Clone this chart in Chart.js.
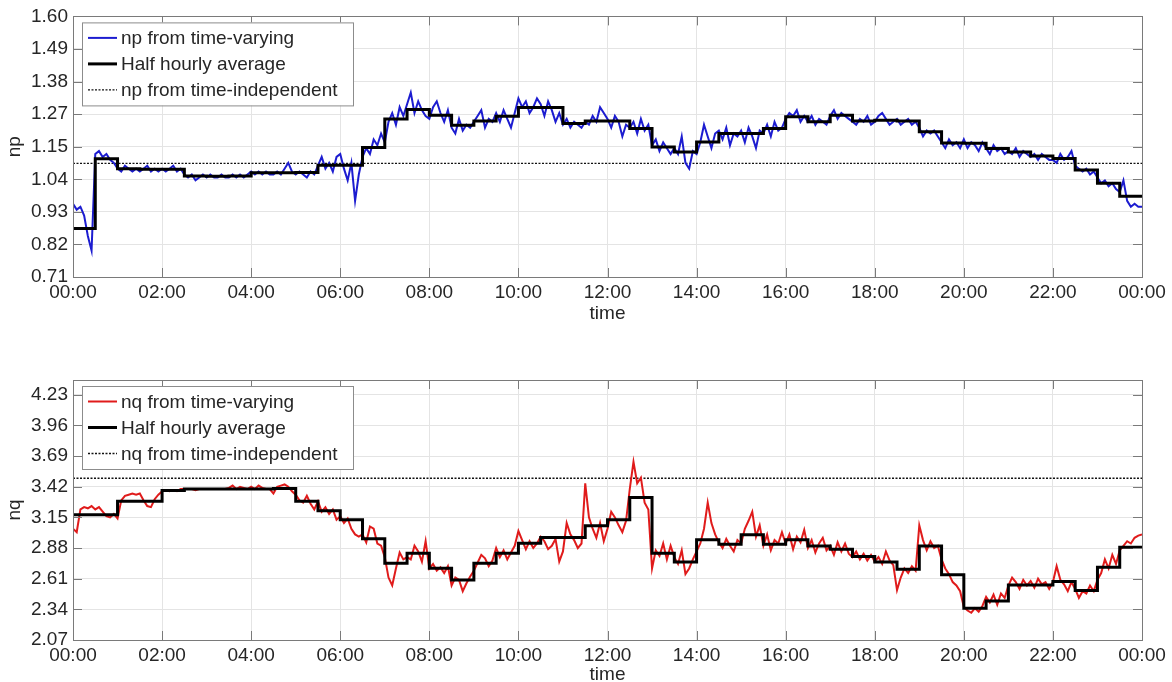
<!DOCTYPE html>
<html><head><meta charset="utf-8">
<script src="https://cdn.jsdelivr.net/npm/chart.js@4.4.0/dist/chart.umd.min.js"></script>
<style>
html,body{margin:0;padding:0;background:#fff;overflow:hidden;width:1172px;height:682px;}
#w1{position:absolute;left:0;top:0;width:1172px;height:340px;}
#w2{position:absolute;left:0;top:340px;width:1172px;height:350px;}
</style></head><body>
<div id="w1"><canvas id="c1"></canvas></div>
<div id="w2"><canvas id="c2"></canvas></div>
<script>
// ---------- data ----------
const SAMPLE_MINUTES = 5;
const AVG_MINUTES = 30;
const DAY_MINUTES = 1440;

const timeTickValues = [0,120,240,360,480,600,720,840,960,1080,1200,1320,1440];
const timeTickLabels = ['00:00','02:00','04:00','06:00','08:00','10:00','12:00','14:00','16:00','18:00','20:00','22:00','00:00'];

const npTickValues = [0.71,0.82125,0.9325,1.04375,1.155,1.26625,1.3775,1.48875,1.60];
const npTickLabels = ['0.71','0.82','0.93','1.04','1.15','1.27','1.38','1.49','1.60'];
const nqTickValues = [2.07,2.34,2.61,2.88,3.15,3.42,3.69,3.96,4.23];
const nqTickLabels = ['2.07','2.34','2.61','2.88','3.15','3.42','3.69','3.96','4.23'];

const npIndependent = 1.098;
const nqIndependent = 3.495;

// np from time-varying (5-minute samples, 00:00 .. 24:00)
const npVarying = [
0.96,0.94,0.95,0.92,0.85,0.80, 1.13,1.14,1.12,1.13,1.11,1.10,
1.08,1.07,1.09,1.08,1.07,1.08, 1.07,1.08,1.09,1.07,1.08,1.07,
1.08,1.07,1.08,1.09,1.07,1.08, 1.06,1.05,1.06,1.04,1.05,1.06,
1.05,1.06,1.05,1.05,1.06,1.05, 1.05,1.06,1.05,1.06,1.05,1.06,
1.07,1.06,1.07,1.06,1.07,1.06, 1.06,1.07,1.06,1.08,1.10,1.07,
1.06,1.07,1.06,1.05,1.07,1.06, 1.09,1.12,1.08,1.10,1.07,1.12,
1.13,1.08,1.04,1.10,0.97,1.06, 1.12,1.15,1.13,1.18,1.16,1.20,
1.17,1.24,1.27,1.23,1.29,1.26, 1.30,1.34,1.27,1.31,1.28,1.26,
1.25,1.29,1.31,1.27,1.24,1.28, 1.22,1.20,1.25,1.21,1.23,1.22,
1.24,1.26,1.28,1.22,1.25,1.24, 1.27,1.24,1.28,1.25,1.22,1.27,
1.32,1.29,1.31,1.27,1.29,1.32, 1.30,1.26,1.31,1.28,1.24,1.27,
1.23,1.25,1.22,1.24,1.23,1.22, 1.24,1.23,1.26,1.24,1.29,1.27,
1.25,1.22,1.26,1.24,1.19,1.23, 1.22,1.24,1.20,1.25,1.21,1.23,
1.16,1.18,1.14,1.17,1.15,1.13, 1.15,1.13,1.19,1.10,1.08,1.14,
1.13,1.17,1.23,1.19,1.15,1.20, 1.21,1.18,1.22,1.16,1.20,1.19,
1.21,1.17,1.22,1.19,1.15,1.21, 1.20,1.23,1.19,1.24,1.21,1.22,
1.25,1.27,1.26,1.28,1.24,1.26, 1.24,1.26,1.23,1.25,1.24,1.23,
1.26,1.28,1.25,1.27,1.26,1.25, 1.24,1.23,1.25,1.24,1.26,1.23,
1.24,1.26,1.27,1.25,1.23,1.24, 1.25,1.23,1.24,1.25,1.23,1.24,
1.22,1.19,1.21,1.20,1.21,1.19, 1.17,1.15,1.18,1.16,1.17,1.15,
1.18,1.15,1.17,1.16,1.14,1.17, 1.15,1.13,1.16,1.14,1.15,1.13,
1.14,1.13,1.15,1.12,1.14,1.13, 1.12,1.13,1.11,1.13,1.12,1.11,
1.11,1.10,1.13,1.11,1.12,1.14, 1.09,1.08,1.07,1.08,1.06,1.07,
1.05,1.03,1.04,1.02,1.03,1.01, 1.00,1.04,0.97,0.95,0.96,0.95,
0.95
];

// np half hourly average (48 half hours)
const npHalfHourly = [
0.876,1.114,1.080,1.078,1.078,1.055,1.054,1.055,1.066,1.066,1.067,1.092,
1.092,1.152,1.250,1.282,1.262,1.228,1.243,1.259,1.289,1.289,1.234,1.243,
1.243,1.217,1.154,1.137,1.171,1.200,1.200,1.217,1.257,1.240,1.262,1.243,
1.245,1.243,1.206,1.168,1.167,1.149,1.137,1.123,1.115,1.075,1.030,0.986
];

// nq from time-varying (5-minute samples, 00:00 .. 24:00)
const nqVarying = [
3.05,3.02,3.22,3.24,3.23,3.25, 3.22,3.24,3.20,3.16,3.15,3.18,
3.14,3.30,3.34,3.35,3.36,3.35, 3.36,3.30,3.25,3.24,3.31,3.35,
3.38,3.39,3.38,3.39,3.38,3.40, 3.40,3.40,3.40,3.39,3.40,3.40,
3.40,3.40,3.40,3.40,3.40,3.40, 3.41,3.43,3.40,3.42,3.41,3.40,
3.42,3.40,3.43,3.41,3.40,3.40, 3.36,3.42,3.43,3.44,3.42,3.38,
3.35,3.30,3.28,3.34,3.27,3.22, 3.29,3.20,3.24,3.18,3.22,3.13,
3.16,3.10,3.14,3.05,3.00,2.98, 3.00,2.93,3.07,3.05,2.92,2.90,
2.80,2.62,2.55,2.70,2.84,2.78, 2.80,2.78,2.90,2.85,2.76,2.94,
2.70,2.74,2.68,2.71,2.66,2.72, 2.55,2.62,2.60,2.50,2.57,2.63,
2.68,2.75,2.82,2.79,2.72,2.77, 2.88,2.80,2.86,2.78,2.84,2.90,
3.03,2.95,2.87,2.94,2.88,2.92, 2.98,2.94,2.87,2.90,2.96,2.76,
2.85,3.10,3.00,2.95,2.88,2.92, 3.45,3.15,3.05,2.97,3.10,2.94,
3.05,3.20,3.15,3.08,3.02,3.12, 3.40,3.64,3.45,3.50,3.28,3.22,
2.70,2.86,2.81,2.92,2.78,2.90, 2.80,2.74,2.86,2.65,2.70,2.78,
2.85,2.92,3.05,3.28,3.10,3.00, 2.93,2.88,2.96,2.90,2.85,2.95,
2.92,3.05,3.12,3.20,2.98,3.08, 2.90,3.00,2.86,2.95,2.92,3.02,
2.92,3.00,2.87,2.98,2.93,3.04, 2.88,2.95,2.84,2.92,2.97,2.86,
2.90,2.82,2.93,2.85,2.92,2.83, 2.80,2.85,2.78,2.83,2.77,2.82,
2.76,2.80,2.74,2.85,2.77,2.73, 2.51,2.62,2.70,2.66,2.72,2.68,
3.08,2.95,2.86,2.94,2.88,2.90, 2.78,2.70,2.65,2.58,2.55,2.50,
2.36,2.33,2.31,2.35,2.32,2.37, 2.45,2.40,2.47,2.38,2.48,2.44,
2.55,2.62,2.58,2.52,2.60,2.55, 2.59,2.53,2.61,2.56,2.58,2.52,
2.58,2.72,2.60,2.56,2.50,2.58, 2.52,2.44,2.50,2.48,2.55,2.50,
2.60,2.66,2.78,2.70,2.82,2.74, 2.86,2.90,2.94,2.92,2.97,2.99,
3.00
];

// nq half hourly average (48 half hours)
const nqHalfHourly = [
3.173,3.173,3.291,3.291,3.387,3.400,3.400,3.400,3.400,3.405,3.291,3.208,
3.129,2.961,2.747,2.835,2.702,2.599,2.747,2.835,2.923,2.973,2.973,3.076,
3.129,3.326,2.835,2.756,2.952,2.914,2.997,2.914,2.952,2.899,2.870,2.805,
2.756,2.694,2.899,2.644,2.349,2.414,2.555,2.555,2.585,2.505,2.711,2.888
];

// ---------- helpers ----------
const FONT = "'Liberation Sans', Arial, sans-serif";
const TEXT = '#262626';
Chart.defaults.font.family = FONT;
Chart.defaults.font.size = 19;
Chart.defaults.color = TEXT;

function samplePoints(vals){ return vals.map((v,i)=>({x:i*SAMPLE_MINUTES, y:v})); }
function stepPoints(vals){
  const pts = vals.map((v,i)=>({x:i*AVG_MINUTES, y:v}));
  pts.push({x:DAY_MINUTES, y:vals[vals.length-1]});
  return pts;
}
function flatPoints(v){ return [{x:0,y:v},{x:DAY_MINUTES,y:v}]; }

const framePlugin = {
  id:'frame',
  afterDatasetsDraw(chart){
    const {ctx, chartArea:a, scales} = chart;
    ctx.save();
    ctx.strokeStyle = '#7a7a7a';
    ctx.lineWidth = 1;
    const L = 9;
    ctx.beginPath();
    scales.x.ticks.forEach(t=>{
      const px = Math.round(scales.x.getPixelForValue(t.value))+0.5;
      ctx.moveTo(px, a.bottom); ctx.lineTo(px, a.bottom-L);
      ctx.moveTo(px, a.top); ctx.lineTo(px, a.top+L);
    });
    scales.y.ticks.forEach(t=>{
      const py = Math.round(scales.y.getPixelForValue(t.value))+0.5;
      ctx.moveTo(a.left, py); ctx.lineTo(a.left+L, py);
      ctx.moveTo(a.right, py); ctx.lineTo(a.right-L, py);
    });
    ctx.stroke();
    ctx.strokeRect(Math.round(a.left)+0.5, Math.round(a.top)+0.5, Math.round(a.right-a.left), Math.round(a.bottom-a.top));
    ctx.restore();
  },
  afterDraw(chart){
    const {ctx, chartArea:a} = chart;
    const ds = chart.data.datasets;
    const bx = a.left+9, by = a.top+6, bw = 271, bh = 83, row = 26;
    ctx.save();
    ctx.fillStyle = '#fff';
    ctx.fillRect(bx, by, bw, bh);
    ctx.strokeStyle = '#8c8c8c';
    ctx.lineWidth = 1;
    ctx.strokeRect(bx+0.5, by+0.5, bw, bh);
    ctx.font = '19px ' + FONT;
    ctx.textBaseline = 'middle';
    ctx.fillStyle = TEXT;
    ds.forEach((d,i)=>{
      const y = by + 15.5 + i*row;
      ctx.save();
      ctx.strokeStyle = d.borderColor;
      ctx.lineWidth = d.borderWidth;
      ctx.setLineDash(d.borderDash || []);
      ctx.beginPath(); ctx.moveTo(bx+6, y); ctx.lineTo(bx+35, y); ctx.stroke();
      ctx.restore();
      ctx.fillText(d.label, bx+39, y+1);
    });
    ctx.restore();
  }
};

function makeChart(id, cfg){
  return new Chart(document.getElementById(id), {
    type:'line',
    data:{datasets:[
      {label:cfg.varLabel, data:samplePoints(cfg.varying), borderColor:cfg.color, borderWidth:2, pointRadius:0, tension:0, order:1},
      {label:'Half hourly average', data:stepPoints(cfg.avg), borderColor:'#000', borderWidth:3, pointRadius:0, stepped:true, order:0},
      {label:cfg.indLabel, data:flatPoints(cfg.ind), borderColor:'#111', borderWidth:1.4, borderDash:[2,1.5], pointRadius:0, order:2}
    ]},
    options:{
      responsive:true, maintainAspectRatio:false, animation:false,
      events:[],
      layout:{padding:{left:0, right:30, top:cfg.padTop, bottom:0}},
      plugins:{legend:{display:false}, tooltip:{enabled:false}},
      scales:{
        x:{type:'linear', min:0, max:DAY_MINUTES,
          afterBuildTicks:s=>{ s.ticks = timeTickValues.map(v=>({value:v})); },
          afterFit:s=>{ s.height = cfg.xHeight; },
          ticks:{autoSkip:false, maxRotation:0, padding:4, color:TEXT, callback:(v,i)=>timeTickLabels[i]},
          grid:{color:'#e4e4e4', lineWidth:1, drawTicks:false},
          border:{display:true, color:'#7a7a7a'},
          title:{display:true, text:'time', color:TEXT, font:{size:19, lineHeight:1.0}, padding:{top:0,bottom:cfg.titlePad}}
        },
        y:{type:'linear', min:cfg.ymin, max:cfg.ymax,
          afterBuildTicks:s=>{ s.ticks = cfg.tickValues.map(v=>({value:v})); },
          afterFit:s=>{ s.width = 73; },
          ticks:{padding:5, color:TEXT, callback:(v,i)=>cfg.tickLabels[i]},
          grid:{color:'#e4e4e4', lineWidth:1, drawTicks:false},
          border:{display:true, color:'#7a7a7a'},
          title:{display:true, text:cfg.yTitle, color:TEXT, font:{size:19, lineHeight:1.0}, padding:{top:5,bottom:0}}
        }
      }
    },
    plugins:[framePlugin]
  });
}

makeChart('c1', {
  varLabel:'np from time-varying', indLabel:'np from time-independent', yTitle:'np',
  varying:npVarying, avg:npHalfHourly, ind:npIndependent, color:'#1c1cd0',
  ymin:0.71, ymax:1.60, tickValues:npTickValues, tickLabels:npTickLabels,
  padTop:16, xHeight:63, titlePad:17
});
makeChart('c2', {
  varLabel:'nq from time-varying', indLabel:'nq from time-independent', yTitle:'nq',
  varying:nqVarying, avg:nqHalfHourly, ind:nqIndependent, color:'#e01b1b',
  ymin:2.07, ymax:4.36, tickValues:nqTickValues, tickLabels:nqTickLabels,
  padTop:40, xHeight:50, titlePad:6
});
</script>
</body></html>
